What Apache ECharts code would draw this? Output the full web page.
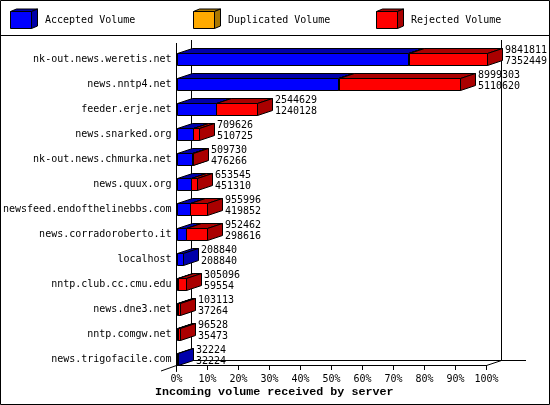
<!DOCTYPE html>
<html><head><meta charset="utf-8">
<style>html,body{margin:0;padding:0;background:#fff}#c{width:550px;height:405px}</style>
<script src="https://cdn.jsdelivr.net/npm/echarts@6/dist/echarts.min.js"></script>
</head><body><div id="c"></div>
<script>
const servers = ['nk-out.news.weretis.net','news.nntp4.net','feeder.erje.net','news.snarked.org','nk-out.news.chmurka.net','news.quux.org','newsfeed.endofthelinebbs.com','news.corradoroberto.it','localhost','nntp.club.cc.cmu.edu','news.dne3.net','nntp.comgw.net','news.trigofacile.com'];
const totalVolume = [9841811,8999303,2544629,709626,509730,653545,955996,952462,208840,305096,103113,96528,32224];
const acceptedVolume = [7352449,5110620,1240128,510725,476266,451310,419852,298616,208840,59554,37264,35473,32224];
const duplicatedVolume = [15000,50000,0,0,0,0,0,0,0,0,0,0,0];
const rejectedVolume = [2474362,3838683,1304501,198901,33464,202235,536144,653846,0,245542,65849,61055,0];
const axisMax = 9841811;

const MONO = '"DejaVu Sans Mono", monospace';
const DX = 15, DY = 5, HALF = 6;
const px = v => Math.round(v) + 0.5;

function box(x0, x1, yc, front, top, side) {
  const l = px(x0), r = px(x1), t = px(yc - HALF), b = px(yc + HALF);
  const st = {stroke:'#000', lineWidth:1};
  return {type:'group', children:[
    {type:'polygon', shape:{points:[[l,t],[l+DX,t-DY],[r+DX,t-DY],[r,t]]}, style:{...st, fill:top}},
    {type:'polygon', shape:{points:[[r,t],[r+DX,t-DY],[r+DX,b-DY],[r,b]]}, style:{...st, fill:side}},
    {type:'rect', shape:{x:l,y:t,width:r-l,height:b-t}, style:{...st, fill:front}}
  ]};
}
function segSeries(name, values, starts, front, top, side) {
  const data = [];
  values.forEach((v,i) => { if (v > 0) data.push([starts[i], starts[i]+v, servers[i]]); });
  return {
    type:'custom', name, data, encode:{x:[0,1], y:2}, z:3,
    renderItem(p, api) {
      const y = api.coord([0, api.value(2)])[1];
      return box(api.coord([api.value(0), 0])[0], api.coord([api.value(1), 0])[0], y, front, top, side);
    }
  };
}
const dupStart = acceptedVolume.slice();
const rejStart = acceptedVolume.map((v,i) => v + duplicatedVolume[i]);
const zeros = servers.map(() => 0);

const labelSeries = {
  type:'custom', name:'labels', z:4,
  data: servers.map((s,i) => [totalVolume[i], acceptedVolume[i], s]),
  encode:{x:0, y:2},
  renderItem(p, api) {
    const c = api.coord([api.value(0), api.value(2)]);
    const x = px(c[0]) + DX + 2.5;
    const f = {fill:'#000', font:'10px '+MONO, textAlign:'left', textVerticalAlign:'middle'};
    return {type:'group', children:[
      {type:'text', style:{...f, x, y:c[1]-9, text:String(api.value(0))}},
      {type:'text', style:{...f, x, y:c[1]+2, text:String(api.value(1))}}
    ]};
  }
};

function line(x1,y1,x2,y2){
  return {type:'line', z:0, shape:{x1,y1,x2,y2}, style:{stroke:'#000', lineWidth:1}};
}
function legendIcon(x, front, top, side){
  const l=x+0.5, r=x+21.5, t=11.5, b=28.5, dx=6, dy=2.5;
  const st={stroke:'#000', lineWidth:1};
  return [
    {type:'polygon', shape:{points:[[l,t],[l+dx,t-dy],[r+dx,t-dy],[r,t]]}, style:{...st, fill:top}},
    {type:'polygon', shape:{points:[[r,t],[r+dx,t-dy],[r+dx,b-dy],[r,b]]}, style:{...st, fill:side}},
    {type:'rect', shape:{x:l,y:t,width:r-l,height:b-t}, style:{...st, fill:front}}
  ];
}
function legendText(x, text){
  return {type:'text', x, y:20.5, style:{text, fill:'#000', font:'10px '+MONO, textVerticalAlign:'middle'}};
}

const chart = echarts.init(document.getElementById('c'), null, {renderer:'canvas'});
chart.setOption({
  animation:false,
  backgroundColor:'#fff',
  title:{text:'Incoming volume received by server', left:155, top:386, padding:0,
    textStyle:{fontFamily:'"Liberation Mono", monospace', fontWeight:'bold', fontSize:11.7, color:'#000'}},
  grid:{left:176.5, top:46.5, width:310, height:325, containLabel:false},
  xAxis:{type:'value', position:'bottom', offset:-6.5, min:0, max:axisMax, interval:axisMax/10,
    splitLine:{show:false},
    axisLine:{show:true, lineStyle:{color:'#000', width:1}},
    axisTick:{show:true, length:5, lineStyle:{color:'#000', width:1}},
    axisLabel:{margin:9, color:'#000', fontFamily:MONO, fontSize:10, showMinLabel:true, showMaxLabel:true,
      formatter:v => Math.round(v/axisMax*100)+'%'}},
  yAxis:{type:'category', inverse:true, data:servers,
    axisLine:{show:true, onZero:false, lineStyle:{color:'#000', width:1}},
    axisTick:{show:false},
    splitLine:{show:false},
    axisLabel:{margin:5, interval:0, color:'#000', fontFamily:MONO, fontSize:10, padding:[2,0,0,0]}},
  series:[
    segSeries('Accepted Volume', acceptedVolume, zeros, '#0000ff', '#0000aa', '#0000aa'),
    segSeries('Duplicated Volume', duplicatedVolume, dupStart, '#ffaa00', '#aa7700', '#aa7700'),
    segSeries('Rejected Volume', rejectedVolume, rejStart, '#ff0000', '#aa0000', '#aa0000'),
    labelSeries
  ],
  graphic:{elements:[
    {type:'rect', z:0, shape:{x:0.5,y:0.5,width:549,height:404}, style:{fill:'none', stroke:'#000', lineWidth:1}},
    line(0,35.5,550,35.5),
    line(176.5,43,176.5,47),
    line(191.5,40,191.5,360.5),
    line(501.5,40,501.5,360.5),
    line(191.5,360.5,526,360.5),
    line(161,371,176.5,365.5),
    line(176.5,365.5,191.5,360.5),
    line(486.5,365.5,501.5,360.5),
    ...legendIcon(10,'#0000ff','#0000aa','#0000aa'),
    legendText(45,'Accepted Volume'),
    ...legendIcon(193,'#ffaa00','#aa7700','#aa7700'),
    legendText(228,'Duplicated Volume'),
    ...legendIcon(376,'#ff0000','#aa0000','#aa0000'),
    legendText(411,'Rejected Volume')
  ]}
});
</script></body></html>
